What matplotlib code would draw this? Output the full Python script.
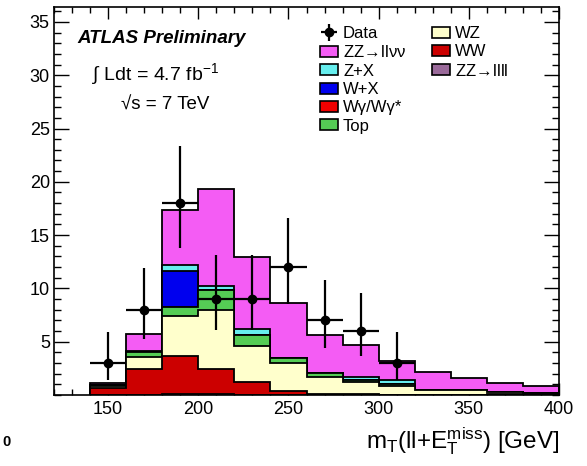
import matplotlib
matplotlib.use('Agg')
import matplotlib.pyplot as plt
import numpy as np
from matplotlib.patches import Patch
from matplotlib.ticker import MultipleLocator, FixedLocator

plt.rcParams['font.family'] = ['Liberation Sans', 'DejaVu Sans']
plt.rcParams['mathtext.fontset'] = 'custom'
plt.rcParams['mathtext.rm'] = 'Liberation Sans'
plt.rcParams['mathtext.it'] = 'Liberation Sans:italic'
plt.rcParams['mathtext.bf'] = 'Liberation Sans:bold'

# ---- data ----
bin_edges = [140, 160, 180, 200, 220, 240, 260, 280, 300, 320, 340, 360, 380, 400]
zz_llll  = [0.03, 0.03, 0.05, 0.05, 0.03, 0.02, 0.02, 0.02, 0.02, 0.02, 0.02, 0.02, 0.02]
ww       = [0.67, 2.42, 3.65, 2.40, 1.17, 0.38, 0.08, 0.05, 0.02, 0.01, 0.01, 0.05, 0.03]
wz       = [0.10, 1.15, 3.69, 5.55, 3.40, 2.59, 1.63, 1.13, 0.76, 0.44, 0.42, 0.18, 0.10]
top_bkg  = [0.10, 0.45, 0.85, 1.84, 1.06, 0.47, 0.30, 0.22, 0.20, 0.00, 0.00, 0.02, 0.02]
wgamma   = [0.00, 0.00, 0.00, 0.00, 0.00, 0.00, 0.00, 0.00, 0.00, 0.00, 0.00, 0.00, 0.00]
w_x      = [0.00, 0.00, 3.36, 0.00, 0.00, 0.00, 0.00, 0.00, 0.00, 0.00, 0.00, 0.00, 0.00]
z_x      = [0.05, 0.08, 0.57, 0.36, 0.54, 0.00, 0.00, 0.30, 0.42, 0.00, 0.00, 0.00, 0.00]
zz_llvv  = [0.21, 1.59, 5.19, 9.14, 6.70, 5.19, 3.60, 3.00, 1.78, 1.65, 1.10, 0.85, 0.63]

data_x   = [150, 170, 190, 210, 230, 250, 270, 290, 310]
data_y   = [3, 8, 18, 9, 9, 12, 7, 6, 3]
data_elo = [1.63, 2.77, 4.20, 2.94, 2.94, 3.42, 2.58, 2.38, 1.63]
data_ehi = [2.92, 3.94, 5.32, 4.11, 4.11, 4.58, 3.77, 3.58, 2.92]
data_xerr = [10, 10, 10, 10, 10, 10, 10, 10, 10]

layers = [  # bottom to top
    ('ZZ→llll', zz_llll, '#9a6a9a'),
    ('WW', ww, '#cc0000'),
    ('WZ', wz, '#ffffcc'),
    ('Top', top_bkg, '#55cc55'),
    ('Wγ/Wγ*', wgamma, '#f00000'),
    ('W+X', w_x, '#0000ee'),
    ('Z+X', z_x, '#66eeee'),
    ('ZZ→llνν', zz_llvv, '#f45cf4'),
]

fig = plt.figure(figsize=(5.87, 4.66), dpi=100)
L, R, T, B = 54, 559, 7, 395
W, H = 587, 466
ax = fig.add_axes([L / W, 1 - B / H, (R - L) / W, (B - T) / H])

edges = np.array(bin_edges, dtype=float)
cum = np.zeros(len(edges) - 1)
cums = []
for name, vals, col in layers:
    cum = cum + np.array(vals)
    cums.append(cum.copy())

for (name, vals, col), c in reversed(list(zip(layers, cums))):
    ax.stairs(c, edges, baseline=0, fill=True, facecolor=col,
              edgecolor='black', linewidth=1.3, zorder=2)

eb = ax.errorbar(data_x, data_y, yerr=[data_elo, data_ehi], xerr=data_xerr,
                 fmt='o', color='black', ms=6, elinewidth=1.6, capsize=0, zorder=5)

ax.set_xlim(120, 400)
ax.set_ylim(0, 36.4)
ax.xaxis.set_major_locator(FixedLocator([150, 200, 250, 300, 350, 400]))
ax.xaxis.set_minor_locator(MultipleLocator(10))
ax.yaxis.set_major_locator(FixedLocator([5, 10, 15, 20, 25, 30, 35]))
ax.yaxis.set_minor_locator(MultipleLocator(1))
ax.tick_params(axis='both', which='both', direction='in', top=True, right=True,
               labelsize=13, width=1.0)
ax.tick_params(axis='y', which='major', length=10.5, pad=3)
ax.tick_params(axis='y', which='minor', length=5.2)
ax.tick_params(axis='x', which='major', length=8.4, pad=4)
ax.tick_params(axis='x', which='minor', length=4.2)
for s in ax.spines.values():
    s.set_linewidth(1.2)

fig.text(R / W, 1 - 448 / H, r'$\mathrm{m_T(ll{+}E_T^{miss})}$ [GeV]',
         ha='right', va='baseline', fontsize=17.5)

fig.text(77 / W, 1 - 43 / H, 'ATLAS Preliminary', fontsize=13.5,
         fontweight='bold', fontstyle='italic', va='baseline')
fig.text(92 / W, 1 - 80 / H, r'$\int$ Ldt = 4.7 fb$^{\mathregular{-1}}$',
         fontsize=14, va='baseline')
fig.text(121 / W, 1 - 110 / H, '√s = 7 TeV', fontsize=13.5, va='baseline')
fig.text(2 / W, 1 - 446 / H, '0', fontsize=10.5, fontweight='bold', va='baseline')

pd = {n: (v, c) for n, v, c in layers}
def ph(n):
    return Patch(facecolor=pd[n][1], edgecolor='black', linewidth=1.2)

h1 = [eb, ph('ZZ→llνν'), ph('Z+X'), ph('W+X'), ph('Wγ/Wγ*'), ph('Top')]
l1 = ['Data', r'ZZ$\!\rightarrow\!$llνν', 'Z+X', 'W+X', 'Wγ/Wγ*', 'Top']
h2 = [ph('WZ'), ph('WW'), ph('ZZ→llll')]
l2 = ['WZ', 'WW', r'ZZ$\!\rightarrow\!$llll']

kw = dict(frameon=False, fontsize=12, borderpad=0, handlelength=1.08,
          handleheight=0.66, handletextpad=0.3, labelspacing=0.2, loc='upper left',
          borderaxespad=0)
leg1 = ax.legend(h1, l1, bbox_to_anchor=((320 - L) / (R - L), (B - 26) / (B - T)), **kw)
ax.add_artist(leg1)
leg2 = ax.legend(h2, l2, bbox_to_anchor=((432 - L) / (R - L), (B - 26) / (B - T)), **kw)

fig.savefig('out.png', dpi=100)
